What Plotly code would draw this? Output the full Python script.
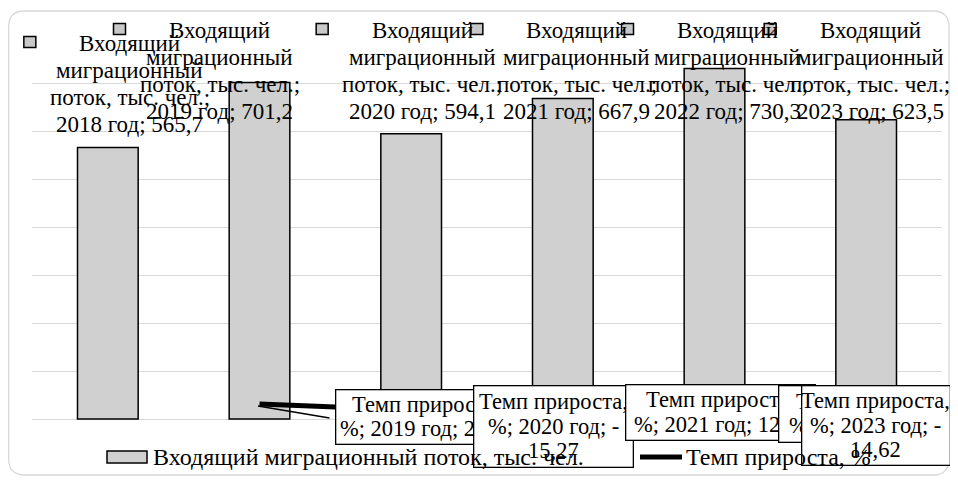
import plotly.graph_objects as go

# ---- data ----
years = ["2018", "2019", "2020", "2021", "2022", "2023"]
inflow = [565.7, 701.2, 594.1, 667.9, 730.3, 623.5]
growth_years = ["2019", "2020", "2021", "2022", "2023"]
growth = [23.95, -15.27, 12.42, 9.34, -14.62]

bar_name = "Входящий миграционный поток, тыс. чел."
line_name = "Темп прироста, %"

# ---- layout helpers (screen pixel -> paper); page body has an 8px margin ----
OFF = 8
WF, HF = 958 - 2 * OFF, 484 - 2 * OFF
L, R, T, B = 32, 942, 35, 467          # plot area in screen pixels
N = len(years)


def PX(px):
    return (px - L) / (R - L)


def PY(py):
    return (B - py) / (B - T)


def CX(i):
    return L + (i + 0.5) * (R - L) / N


def fmt(v, d):
    return f"{v:.{d}f}".replace(".", ",")


FONT = "Liberation Serif"

fig = go.Figure()
fig.add_trace(go.Bar(
    x=years, y=inflow, name=bar_name,
    marker=dict(color="#d0d0d0", line=dict(color="#000000", width=1.5)),
    hoverinfo="skip",
))
fig.add_trace(go.Scatter(
    x=growth_years, y=growth, name=line_name, mode="lines",
    line=dict(color="#000000", width=5), yaxis="y2", hoverinfo="skip",
))

fig.update_layout(
    width=WF, height=HF,
    margin=dict(l=L - OFF, r=WF - (R - OFF), t=T - OFF, b=HF - (B - OFF),
                autoexpand=False),
    paper_bgcolor="white", plot_bgcolor="white",
    bargap=0.6,
    font=dict(family=FONT, size=20, color="black"),
    xaxis=dict(type="category", categoryorder="array", categoryarray=years,
               range=[-0.5, N - 0.5], showticklabels=False, showgrid=False,
               zeroline=False, showline=False, ticks=""),
    yaxis=dict(range=[-100, 800], dtick=100, showgrid=True,
               gridcolor="#d9d9d9", gridwidth=1, zeroline=False,
               showticklabels=False, showline=False, ticks=""),
    yaxis2=dict(overlaying="y", range=[-388, 2434], visible=False),
    showlegend=False,
)

# outer rounded chart border
x0, x1, y0, y1 = PX(8.7), PX(949), PY(475), PY(11)
rx, ry = 16 / (R - L), 16 / (B - T)
path = (f"M {x0+rx},{y1} L {x1-rx},{y1} Q {x1},{y1} {x1},{y1-ry} "
        f"L {x1},{y0+ry} Q {x1},{y0} {x1-rx},{y0} L {x0+rx},{y0} "
        f"Q {x0},{y0} {x0},{y0+ry} L {x0},{y1-ry} Q {x0},{y1} {x0+rx},{y1} Z")
fig.add_shape(type="path", path=path, xref="paper", yref="paper",
              line=dict(color="#d9d9d9", width=1.3), layer="below")

# ---- top data labels (bar series) ----
TOP_SIZE = 23
top_shift = [22, -40, 11, 14, 13, 4]
top_center = [84, 71, 71, 71, 71, 71]
TOP_LH = 27.3
for i, (yr, v) in enumerate(zip(years, inflow)):
    lines = ["Входящий", "миграционный", "поток, тыс. чел.;",
             f"{yr} год; {fmt(v, 1)}"]
    tx = CX(i) + top_shift[i]
    for k, ln in enumerate(lines):
        ly = top_center[i] + (k - 1.5) * TOP_LH
        fig.add_annotation(x=PX(tx), xref="paper", xanchor="center",
                           y=PY(ly), yref="paper", yanchor="middle",
                           text=ln, showarrow=False,
                           font=dict(family=FONT, size=TOP_SIZE, color="black"))
    first = top_center[i] - 1.5 * TOP_LH - 1
    fig.add_shape(type="rect", xref="paper", xsizemode="pixel",
                  xanchor=PX(tx - 100), x0=-6, x1=6,
                  yref="paper", ysizemode="pixel", yanchor=PY(first),
                  y0=-5.5, y1=5.5, fillcolor="#c8c8c8",
                  line=dict(color="black", width=1.5))

# leader line for the 2019 growth label
fig.add_shape(type="line", xref="paper", yref="paper",
              x0=PX(CX(1) - 1.5), x1=PX(CX(1) + 70),
              y0=PY(406), y1=PY(418), line=dict(color="black", width=1.5))

# ---- bottom data labels (growth series) ----
BOX_SIZE = 22.5
BOX_LH = 24.5
box_shift = [167, 142, 158, 156, 9.5]
box_cy = [416.5, 426, 412, 413.5, 425]
box_w = [183, 160, 190, 184, 149]
box_h = [55, 82, 56, 57, 80]
for i, (yr, g) in enumerate(zip(growth_years, growth)):
    ci = years.index(yr)
    bx = CX(ci) + box_shift[i]
    if g < 0:
        lines = ["Темп прироста,", f"%; {yr} год; -", fmt(abs(g), 2)]
    else:
        lines = ["Темп прироста,", f"%; {yr} год; {fmt(g, 2)}"]
    fig.add_annotation(x=PX(bx), xref="paper", xanchor="center",
                       y=PY(box_cy[i]), yref="paper", yanchor="middle",
                       text=" ", showarrow=False,
                       width=box_w[i] - 2, height=box_h[i] - 2,
                       bgcolor="white", bordercolor="black",
                       borderwidth=1.3, borderpad=0)
    nl = len(lines)
    for k, ln in enumerate(lines):
        ly = box_cy[i] + (k - (nl - 1) / 2) * BOX_LH
        fig.add_annotation(x=PX(bx), xref="paper", xanchor="center",
                           y=PY(ly), yref="paper", yanchor="middle",
                           text=ln, showarrow=False,
                           font=dict(family=FONT, size=BOX_SIZE, color="black"))

# ---- legend (drawn last so its text sits on top of the label boxes) ----
LEG_SIZE = 24
LEG_Y = 457
fig.add_shape(type="rect", xref="paper", yref="paper",
              x0=PX(107), x1=PX(147), y0=PY(463), y1=PY(451),
              fillcolor="#d0d0d0", line=dict(color="black", width=1.5))
fig.add_annotation(x=PX(151), xref="paper", xanchor="left",
                   y=PY(LEG_Y), yref="paper", yanchor="middle",
                   text=bar_name, showarrow=False,
                   font=dict(family=FONT, size=LEG_SIZE, color="black"))
fig.add_shape(type="line", xref="paper", yref="paper",
              x0=PX(640), x1=PX(682), y0=PY(LEG_Y), y1=PY(LEG_Y),
              line=dict(color="black", width=5))
fig.add_annotation(x=PX(684), xref="paper", xanchor="left",
                   y=PY(LEG_Y), yref="paper", yanchor="middle",
                   text=line_name, showarrow=False,
                   font=dict(family=FONT, size=LEG_SIZE, color="black"))

fig.write_html("out.html")
